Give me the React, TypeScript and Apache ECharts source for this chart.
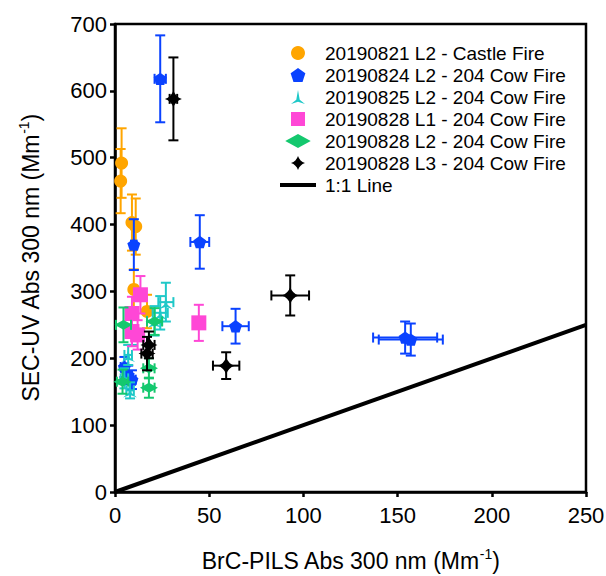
import React, { useEffect, useRef } from "react";
import * as echarts from "echarts";

// [x, y, xErr, yErr]
const castleFire0821 = [
  [3.5, 492, 1.5, 52], [3, 465, 1.5, 48], [9, 403, 1.5, 42], [11, 397, 1.5, 42],
  [10, 303, 1.5, 30], [17, 270, 1.5, 25],
];
const cowFire0824L2 = [
  [24, 618, 3, 65], [10, 370, 1.5, 38], [45, 374, 5, 40], [64, 248, 7, 26],
  [154, 231, 17, 24], [157, 228, 17, 24], [5, 187, 2, 15], [7, 175, 2, 14], [9, 168, 2, 14],
];
const cowFire0825L2 = [
  [27, 284, 4, 29], [24, 268, 4, 25], [21, 256, 4, 22], [9, 240, 3, 20],
  [7, 205, 2, 15], [8, 152, 2, 12], [5, 170, 2, 15],
];
const cowFire0828L1 = [
  [13.5, 295, 3, 28], [9, 267, 3, 25], [9, 240, 3, 22], [12, 235, 3, 22], [44.5, 253, 3, 27],
];
const cowFire0828L2 = [
  [4.5, 250, 4, 26], [21, 255, 4, 20], [4, 165, 3, 18], [18, 156, 3, 15], [18, 185, 3, 15],
];
const cowFire0828L3 = [
  [31, 588, 2, 62], [93, 294, 10, 30], [59, 189, 7, 20], [18, 220, 3, 20], [17, 207, 3, 25],
];
const oneToOne = [[0, 0], [250, 250]];

const seriesNames = [
  "20190821 L2 - Castle Fire",
  "20190824 L2 - 204 Cow Fire",
  "20190825 L2 - 204 Cow Fire",
  "20190828 L1 - 204 Cow Fire",
  "20190828 L2 - 204 Cow Fire",
  "20190828 L3 - 204 Cow Fire",
];
const lineName = "1:1 Line";

const FONT = "'Liberation Sans', Arial, sans-serif";

const PENTAGON = "path://M0,-10 L9.51,-3.09 L5.88,8.09 L-5.88,8.09 L-9.51,-3.09 Z";
const SPIKE = "path://M0,-10 L2.2,2.5 L9,8 L0,5 L-9,8 L-2.2,2.5 Z";
const SQUARE = "path://M-7,-7 L7,-7 L7,7 L-7,7 Z";
const WIDE_DIAMOND = "path://M0,-5.5 L10,0 L0,5.5 L-10,0 Z";
const STAR4 = "path://M0,-10 Q2.5,-2.5 10,0 Q2.5,2.5 0,10 Q-2.5,2.5 -10,0 Q-2.5,-2.5 0,-10 Z";
const LINE_ICON = "path://M0,0 L36,0 L36,4 L0,4 Z";

const groups = [
  { data: castleFire0821, color: "#FFA500", symbol: "circle", size: 13 },
  { data: cowFire0824L2, color: "#0A42FF", symbol: PENTAGON, size: 13 },
  { data: cowFire0825L2, color: "#1EC8C8", symbol: SPIKE, size: 14 },
  { data: cowFire0828L1, color: "#FF47D6", symbol: SQUARE, size: 15 },
  { data: cowFire0828L2, color: "#14C86E", symbol: WIDE_DIAMOND, size: 18 },
  { data: cowFire0828L3, color: "#000000", symbol: STAR4, size: 17 },
];

function errRender(color: string) {
  return (params: any, api: any) => {
    const x = api.value(0), y = api.value(1), xe = api.value(2), ye = api.value(3);
    const top = api.coord([x, y + ye]);
    const bot = api.coord([x, y - ye]);
    const left = api.coord([x - xe, y]);
    const right = api.coord([x + xe, y]);
    const cap = 5;
    const style = { stroke: color, lineWidth: 2 };
    const ln = (x1: number, y1: number, x2: number, y2: number) => ({
      type: "line", shape: { x1, y1, x2, y2 }, style,
    });
    return {
      type: "group",
      children: [
        ln(top[0], top[1], bot[0], bot[1]),
        ln(top[0] - cap, top[1], top[0] + cap, top[1]),
        ln(bot[0] - cap, bot[1], bot[0] + cap, bot[1]),
        ln(left[0], left[1], right[0], right[1]),
        ln(left[0], left[1] - cap, left[0], left[1] + cap),
        ln(right[0], right[1] - cap, right[0], right[1] + cap),
      ],
    };
  };
}

export default function App() {
  const ref = useRef<HTMLDivElement>(null);
  useEffect(() => {
    if (!ref.current) return;
    const chart = echarts.init(ref.current, null, { renderer: "svg" });
    const series: any[] = [];
    groups.forEach((g, i) => {
      series.push({
        type: "custom",
        name: seriesNames[i] + " err",
        data: g.data,
        encode: { x: 0, y: 1 },
        renderItem: errRender(g.color),
        z: 2 + i * 2,
        silent: true,
      });
      series.push({
        type: "scatter",
        name: seriesNames[i],
        data: g.data.map((d) => [d[0], d[1]]),
        symbol: g.symbol,
        symbolSize: g.size,
        symbolKeepAspect: true,
        itemStyle: { color: g.color, opacity: 1 },
        z: 3 + i * 2,
      });
    });
    series.push({
      type: "line",
      name: lineName,
      data: oneToOne,
      symbol: "none",
      lineStyle: { color: "#000", width: 4 },
      itemStyle: { color: "#000" },
      z: 1,
    });

    const titleRich = {
      a: { fontSize: 23, fontFamily: FONT, color: "#000" },
      s: { fontSize: 14, fontFamily: FONT, color: "#000", padding: [0, 0, 14, 0] },
    };

    chart.setOption({
      animation: false,
      backgroundColor: "#fff",
      textStyle: { fontFamily: FONT },
      grid: {
        left: 115, top: 24, right: 20, bottom: 84,
        outerBoundsMode: "none",
        containLabel: false,
        show: true, borderColor: "#000", borderWidth: 2.5,
      },
      legend: {
        orient: "vertical",
        left: 280,
        top: 42,
        padding: 0,
        itemWidth: 36,
        itemHeight: 14,
        itemGap: 0,
        symbolKeepAspect: true,
        textStyle: { fontSize: 19, color: "#000", lineHeight: 22, fontFamily: FONT, padding: [0, 0, 0, 4] },
        data: [
          ...seriesNames.map((n, i) => ({ name: n, icon: groups[i].symbol })),
          { name: lineName, icon: LINE_ICON },
        ],
      },
      xAxis: {
        type: "value",
        min: 0, max: 250, interval: 50,
        axisLine: { show: true, lineStyle: { color: "#000", width: 2.5 } },
        axisTick: { show: true, inside: false, length: 5, lineStyle: { color: "#000", width: 2.5 } },
        splitLine: { show: false },
        axisLabel: { fontSize: 22, color: "#000", fontFamily: FONT, margin: 12 },
        name: "{a|BrC-PILS Abs 300 nm (Mm}{s|-1}{a|)}",
        nameLocation: "middle",
        nameGap: 55,
        nameTextStyle: { rich: titleRich },
      },
      yAxis: {
        type: "value",
        min: 0, max: 700, interval: 100,
        axisLine: { show: true, lineStyle: { color: "#000", width: 2.5 } },
        axisTick: { show: true, inside: false, length: 5, lineStyle: { color: "#000", width: 2.5 } },
        splitLine: { show: false },
        axisLabel: { fontSize: 22, color: "#000", fontFamily: FONT, margin: 8 },
        name: "{a|SEC-UV Abs 300 nm (Mm}{s|-1}{a|)}",
        nameLocation: "middle",
        nameGap: 70,
        nameTextStyle: { rich: titleRich },
      },
      series,
    });
    return () => chart.dispose();
  }, []);
  return <div ref={ref} style={{ width: 606, height: 576, position: "fixed", left: 0, top: 0 }} />;
}
